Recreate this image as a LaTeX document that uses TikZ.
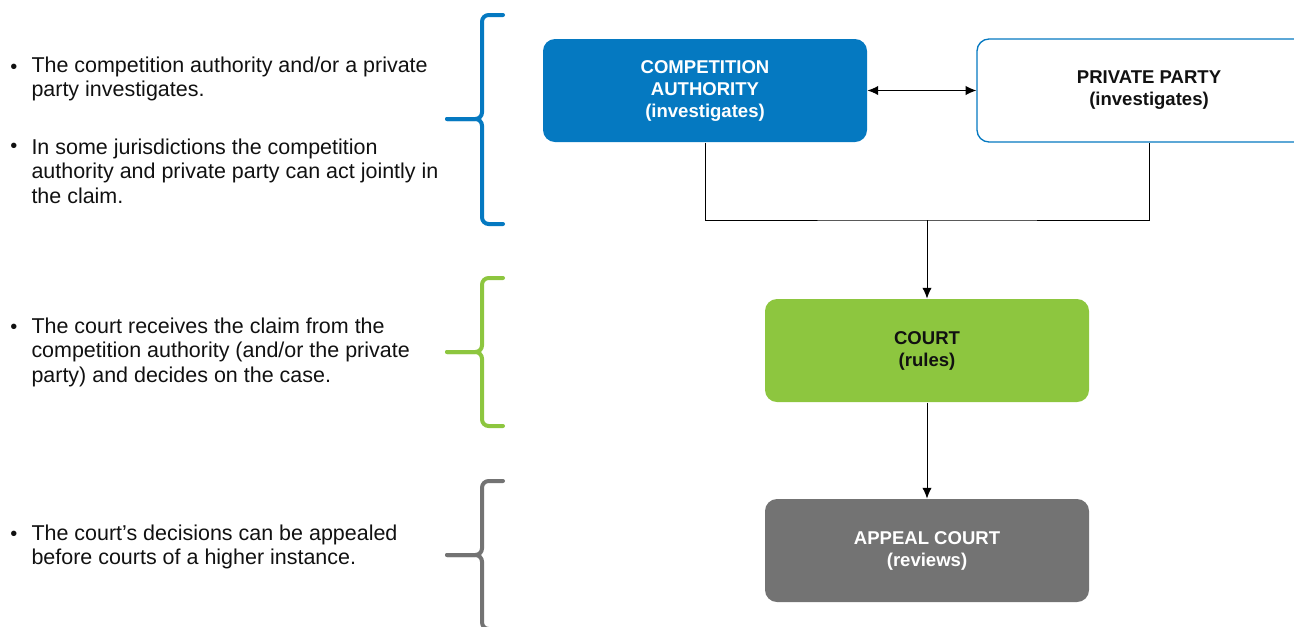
\documentclass[tikz,border=0pt]{standalone}
\usepackage{fontspec}
\setmainfont{Liberation Sans}
\usetikzlibrary{arrows.meta}
\definecolor{caBlue}{HTML}{0579C1}
\definecolor{courtGreen}{HTML}{8DC63F}
\definecolor{appealGray}{HTML}{737373}
\definecolor{bodyText}{HTML}{111111}

\begin{document}
\begin{tikzpicture}[x=0.75pt,y=-0.75pt,line width=0.75pt,
  >={Latex[length=8pt,width=7pt]},
  box/.style={rounded corners=9pt,minimum width=243pt,minimum height=77.25pt,
    align=center,font=\fontsize{13.9}{16.5}\selectfont\bfseries},
  item/.style={anchor=west,align=left,inner sep=0pt,text=bodyText,
    font=\fontsize{16.1}{18.4}\selectfont},
  dot/.style={inner sep=0pt,text=bodyText,font=\fontsize{15}{15}\selectfont},
  sidebrace/.style={line width=3pt,rounded corners=5pt,line cap=round}]
  \useasboundingbox (0,0) rectangle (1294,626);
  \clip (0,0) rectangle (1294,626);

  % left column
  \node[dot] (d1) at (14,69) {\textbullet};
  \node[item] (t1) at (31,79) {The competition authority and/or a private\\party investigates.};
  \node[dot] (d2) at (14,148) {\textbullet};
  \node[item] (t2) at (31,171) {In some jurisdictions the competition\\authority and private party can act jointly in\\the claim.};
  \node[dot] (d3) at (14,329) {\textbullet};
  \node[item] (t3) at (31,352) {The court receives the claim from the\\competition authority (and/or the private\\party) and decides on the case.};
  \node[dot] (d4) at (14,536) {\textbullet};
  \node[item] (t4) at (31,547) {The court’s decisions can be appealed\\before courts of a higher instance.};

  % braces
  \draw[sidebrace,caBlue] (503,15) -| (482,119) -- (447,119);
  \draw[sidebrace,caBlue] (447,119) -- (482,119) |- (503,224);
  \draw[sidebrace,courtGreen] (503,278) -| (482,352) -- (447,352);
  \draw[sidebrace,courtGreen] (447,352) -- (482,352) |- (503,426);
  \draw[sidebrace,appealGray] (503,481) -| (482,555) -- (447,555);
  \draw[sidebrace,appealGray] (447,555) -- (482,555) |- (503,629);

  % boxes
  \node[box,fill=caBlue,text=white] (ca) at (705,90.5)
    {COMPETITION\\AUTHORITY\\(investigates)};
  \node[box,draw=caBlue,line width=1pt,fill=white,text=bodyText,minimum width=258pt] (pp) at (1149,90.5)
    {PRIVATE PARTY\\(investigates)};
  \node[box,fill=courtGreen,text=bodyText] (court) at (927,350.5)
    {COURT\\(rules)};
  \node[box,fill=appealGray,text=white] (appeal) at (927,550.5)
    {APPEAL COURT\\(reviews)};

  % connectors
  \coordinate (j) at (927,220);
  \draw[<->] (ca) -- (pp);
  \draw (ca.south) |- (j) -| (pp.south);
  \draw[->] (j) -- (court);
  \draw[->] (court) -- (appeal);
\end{tikzpicture}
\end{document}
